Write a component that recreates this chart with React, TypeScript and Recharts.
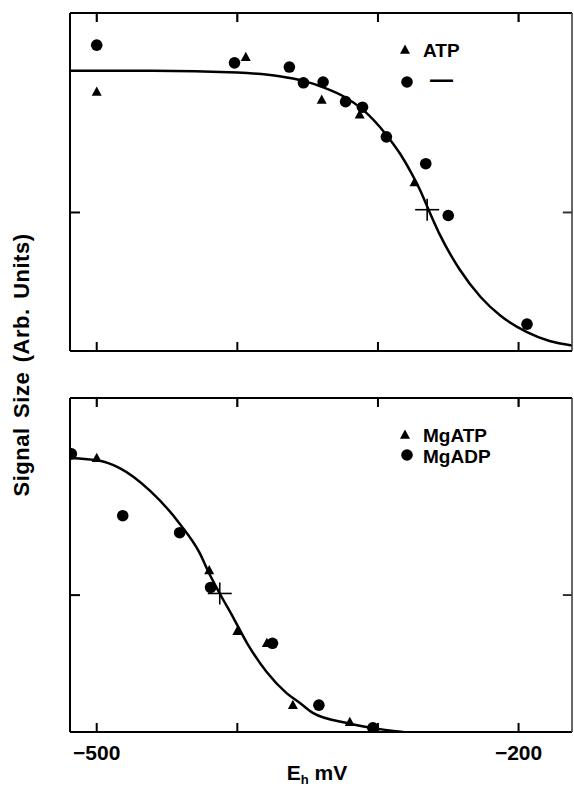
import React from 'react';
import { ComposedChart, Line, Scatter, XAxis, YAxis, Legend, ReferenceLine } from 'recharts';

const FONT = '"Liberation Sans", Arial, Helvetica, sans-serif';

// Axes
const xDomain: [number, number] = [-519, -162];
const yDomain: [number, number] = [0, 1.22];
const xTicks = [-500, -400, -300, -200];
const xLabelTicks = [-500, -200];
const yTicks = [0.5];

// Top panel: ATP (triangles) and no nucleotide (circles)
const topATP = [
  { x: -500, y: 0.935 },
  { x: -394, y: 1.06 },
  { x: -340, y: 0.906 },
  { x: -313, y: 0.853 },
  { x: -274, y: 0.608 },
];
const topNone = [
  { x: -500, y: 1.104 },
  { x: -402, y: 1.04 },
  { x: -363, y: 1.025 },
  { x: -353, y: 0.968 },
  { x: -339, y: 0.971 },
  { x: -323, y: 0.9 },
  { x: -311, y: 0.88 },
  { x: -294, y: 0.773 },
  { x: -266, y: 0.676 },
  { x: -250, y: 0.489 },
  { x: -194, y: 0.097 },
];
const topMid = [{ x: -265, y: 0.51 }];
const topFit = [
  { x: -519, y: 1.012 },
  { x: -460, y: 1.012 },
  { x: -400, y: 1.005 },
  { x: -370, y: 0.992 },
  { x: -353, y: 0.975 },
  { x: -339, y: 0.952 },
  { x: -323, y: 0.915 },
  { x: -311, y: 0.872 },
  { x: -294, y: 0.78 },
  { x: -284, y: 0.71 },
  { x: -276, y: 0.64 },
  { x: -270, y: 0.58 },
  { x: -264, y: 0.51 },
  { x: -256, y: 0.42 },
  { x: -242, y: 0.295 },
  { x: -227, y: 0.195 },
  { x: -213, y: 0.128 },
  { x: -194, y: 0.068 },
  { x: -178, y: 0.036 },
  { x: -162, y: 0.02 },
];

// Bottom panel: MgATP (triangles) and MgADP (circles)
const botMgATP = [
  { x: -500, y: 1.0 },
  { x: -420, y: 0.59 },
  { x: -400, y: 0.368 },
  { x: -379, y: 0.324 },
  { x: -360.5, y: 0.098 },
  { x: -320, y: 0.036 },
];
const botMgADP = [
  { x: -518, y: 1.016 },
  { x: -481.5, y: 0.79 },
  { x: -441, y: 0.728 },
  { x: -419, y: 0.528 },
  { x: -375, y: 0.324 },
  { x: -342, y: 0.098 },
  { x: -303.6, y: 0.015 },
];
const botMid = [{ x: -412.5, y: 0.506 }];
const botFit = [
  { x: -519, y: 1.001 },
  { x: -498, y: 0.991 },
  { x: -484, y: 0.965 },
  { x: -462, y: 0.881 },
  { x: -441, y: 0.761 },
  { x: -427, y: 0.656 },
  { x: -420, y: 0.579 },
  { x: -412.5, y: 0.506 },
  { x: -403, y: 0.419 },
  { x: -393, y: 0.324 },
  { x: -379, y: 0.218 },
  { x: -365, y: 0.142 },
  { x: -355.5, y: 0.106 },
  { x: -346, y: 0.069 },
  { x: -322, y: 0.033 },
  { x: -304, y: 0.015 },
  { x: -282, y: 0.0 },
];

const topNames = ['ATP', '—'];
const botNames = ['MgATP', 'MgADP'];

// inward tick lengths in data units (top and right frame edges)
const TOP_TICK_LEN = 0.032;
const RIGHT_TICK_LEN = 6.5;

const Tri = (p: any) => {
  const { cx, cy } = p;
  const s = 5;
  return (
    <polygon
      points={`${cx},${cy - s * 1.1} ${cx + s},${cy + s * 0.75} ${cx - s},${cy + s * 0.75}`}
      fill="#000"
    />
  );
};
const Dot = (p: any) => <circle cx={p.cx} cy={p.cy} r={5.8} fill="#000" />;
const Cross = (p: any) => (
  <g stroke="#000" strokeWidth={1.6}>
    <line x1={p.cx - 12} y1={p.cy} x2={p.cx + 12} y2={p.cy} />
    <line x1={p.cx} y1={p.cy - 11} x2={p.cx} y2={p.cy + 11} />
  </g>
);
const blank = () => '';

const frameAxes = () => [
  <XAxis
    key="xb"
    xAxisId="b"
    orientation="bottom"
    mirror
    type="number"
    dataKey="x"
    domain={xDomain}
    allowDataOverflow
    ticks={xTicks}
    interval={0}
    tickFormatter={blank}
    tickSize={9}
    stroke="#000"
    strokeWidth={2}
  />,
  <XAxis
    key="xt"
    xAxisId="t"
    orientation="top"
    mirror
    type="number"
    dataKey="x"
    domain={xDomain}
    allowDataOverflow
    ticks={xTicks}
    interval={0}
    tickFormatter={blank}
    tickSize={9}
    stroke="#000"
    strokeWidth={2}
  />,
  <YAxis
    key="yl"
    yAxisId="l"
    orientation="left"
    mirror
    type="number"
    dataKey="y"
    domain={yDomain}
    allowDataOverflow
    ticks={yTicks}
    interval={0}
    tickFormatter={blank}
    tickSize={10}
    stroke="#000"
    strokeWidth={2}
  />,
  <YAxis
    key="yr"
    yAxisId="r"
    orientation="right"
    mirror
    type="number"
    dataKey="y"
    domain={yDomain}
    allowDataOverflow
    ticks={yTicks}
    interval={0}
    tickFormatter={blank}
    tickSize={9}
    stroke="#333"
    strokeWidth={1.5}
  />,
  ...xTicks.map((t) => (
    <ReferenceLine
      key={`tt${t}`}
      xAxisId="b"
      yAxisId="l"
      ifOverflow="visible"
      segment={[
        { x: t, y: yDomain[1] },
        { x: t, y: yDomain[1] - TOP_TICK_LEN },
      ]}
      stroke="#000"
      strokeWidth={1.5}
    />
  )),
  ...yTicks.map((t) => (
    <ReferenceLine
      key={`rt${t}`}
      xAxisId="b"
      yAxisId="l"
      ifOverflow="visible"
      segment={[
        { x: xDomain[1], y: t },
        { x: xDomain[1] - RIGHT_TICK_LEN, y: t },
      ]}
      stroke="#000"
      strokeWidth={1.5}
    />
  )),
];

const TopLegend = () => (
  <svg width={130} height={56} style={{ overflow: 'visible' }}>
    <Tri cx={7} cy={10} />
    <text x={25} y={17} fontFamily={FONT} fontWeight="bold" fontSize={19} fill="#000">
      {topNames[0]}
    </text>
    <Dot cx={9} cy={42} />
    <text x={32} y={47} fontFamily={FONT} fontWeight="bold" fontSize={23} fill="#000">
      {topNames[1]}
    </text>
  </svg>
);

const BotLegend = () => (
  <svg width={130} height={46} style={{ overflow: 'visible' }}>
    <Tri cx={7} cy={10} />
    <text x={25} y={17} fontFamily={FONT} fontWeight="bold" fontSize={19} fill="#000">
      {botNames[0]}
    </text>
    <Dot cx={9} cy={30} />
    <text x={25} y={38} fontFamily={FONT} fontWeight="bold" fontSize={19} fill="#000">
      {botNames[1]}
    </text>
  </svg>
);

const XLabel = (props: any) => {
  const vb = props.viewBox || {};
  const cx = (vb.x ?? 70) + (vb.width ?? 502) / 2 - 4;
  const by = (vb.y ?? 732) + 48;
  return (
    <text x={cx} y={by} textAnchor="middle" fontFamily={FONT} fontWeight="bold" fontSize={21} fill="#000">
      <tspan>E</tspan>
      <tspan fontSize={13} dy={4}>h</tspan>
      <tspan dy={-4}> mV</tspan>
    </text>
  );
};

export default function App() {
  return (
    <div style={{ position: 'absolute', left: 0, top: 0, width: 574, height: 787, background: '#fff' }}>
      <div
        style={{
          position: 'absolute',
          left: 22 - 160,
          top: 365 - 14,
          width: 320,
          height: 28,
          lineHeight: '28px',
          textAlign: 'center',
          transform: 'rotate(-90deg)',
          transformOrigin: '50% 50%',
          fontFamily: FONT,
          fontWeight: 'bold',
          fontSize: 22,
          letterSpacing: 0.5,
          wordSpacing: 3,
          color: '#000',
          whiteSpace: 'nowrap',
        }}
      >
        Signal Size (Arb. Units)
      </div>

      <div style={{ position: 'absolute', left: 0, top: 0 }}>
        <ComposedChart width={574} height={360} margin={{ top: 13, right: 2, bottom: 9, left: 70 }}>
          {frameAxes()}
          <Line
            xAxisId="b"
            yAxisId="l"
            data={topFit}
            dataKey="y"
            type="monotone"
            stroke="#000"
            strokeWidth={2.5}
            dot={false}
            isAnimationActive={false}
            legendType="none"
          />
          <Scatter xAxisId="b" yAxisId="l" name={topNames[0]} data={topATP} dataKey="y" shape={Tri} isAnimationActive={false} />
          <Scatter xAxisId="b" yAxisId="l" name={topNames[1]} data={topNone} dataKey="y" shape={Dot} isAnimationActive={false} />
          <Scatter xAxisId="b" yAxisId="l" name="midpoint" data={topMid} dataKey="y" shape={Cross} isAnimationActive={false} legendType="none" />
          <Legend
            layout="vertical"
            align="center"
            verticalAlign="middle"
            wrapperStyle={{ left: 398, top: 40, width: 130, height: 56 }}
            content={() => <TopLegend />}
          />
        </ComposedChart>
      </div>

      <div style={{ position: 'absolute', left: 0, top: 360 }}>
        <ComposedChart width={574} height={427} margin={{ top: 38, right: 2, bottom: 0, left: 70 }}>
          {frameAxes()}
          <XAxis
            xAxisId="lab"
            orientation="bottom"
            type="number"
            dataKey="x"
            domain={xDomain}
            allowDataOverflow
            ticks={xLabelTicks}
            interval={0}
            height={55}
            axisLine={false}
            tickLine={false}
            tickSize={0}
            tickMargin={13}
            tickFormatter={(v: number) => `\u2212${Math.abs(v)}`}
            tick={{ fontFamily: FONT, fontWeight: 'bold', fontSize: 21, fill: '#000' }}
            label={<XLabel />}
          />
          <Line
            xAxisId="b"
            yAxisId="l"
            data={botFit}
            dataKey="y"
            type="monotone"
            stroke="#000"
            strokeWidth={2.5}
            dot={false}
            isAnimationActive={false}
            legendType="none"
          />
          <Scatter xAxisId="b" yAxisId="l" name={botNames[0]} data={botMgATP} dataKey="y" shape={Tri} isAnimationActive={false} />
          <Scatter xAxisId="b" yAxisId="l" name={botNames[1]} data={botMgADP} dataKey="y" shape={Dot} isAnimationActive={false} />
          <Scatter xAxisId="b" yAxisId="l" name="midpoint" data={botMid} dataKey="y" shape={Cross} isAnimationActive={false} legendType="none" />
          <Legend
            layout="vertical"
            align="center"
            verticalAlign="middle"
            wrapperStyle={{ left: 398, top: 65, width: 130, height: 46 }}
            content={() => <BotLegend />}
          />
        </ComposedChart>
      </div>
    </div>
  );
}
